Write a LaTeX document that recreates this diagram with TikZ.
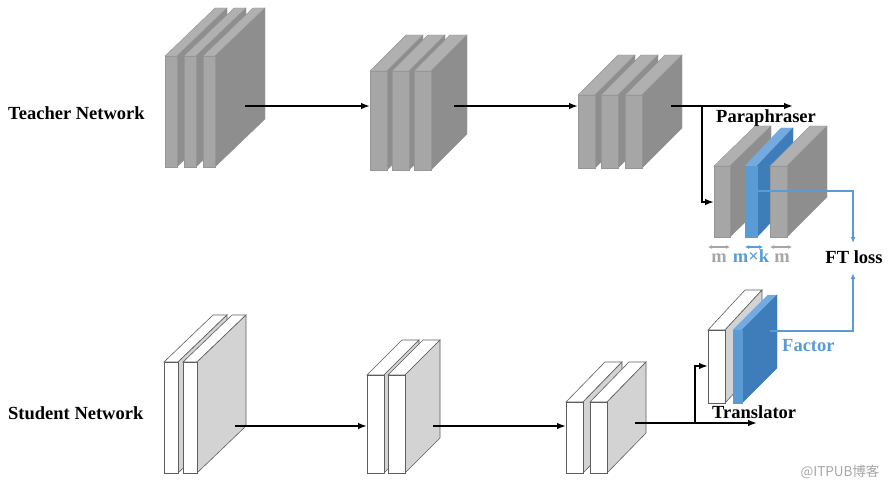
\documentclass[tikz,border=0pt]{standalone}
\usepackage{fontspec}
\setmainfont{Liberation Serif}
\newfontfamily\cjk{Noto Sans CJK SC}
\usetikzlibrary{arrows.meta}

\definecolor{tfrontc}{HTML}{A6A6A6}
\definecolor{ttopc}{HTML}{B0B0B0}
\definecolor{tsidec}{HTML}{8E8E8E}
\definecolor{tedgec}{HTML}{969696}
\definecolor{ssidec}{HTML}{D3D3D3}
\definecolor{sedgec}{HTML}{5E5E5E}
\definecolor{bfrontc}{HTML}{5B9BD5}
\definecolor{btopc}{HTML}{73ABE0}
\definecolor{bsidec}{HTML}{3F7DBA}
\definecolor{bluec}{HTML}{5B9BD5}
\definecolor{dimc}{HTML}{A6A6A6}

\tikzset{
  tfront/.style={fill=tfrontc, draw=tedgec, line width=0.4pt},
  ttop/.style={fill=ttopc, draw=tedgec, line width=0.4pt},
  tside/.style={fill=tsidec, draw=tedgec, line width=0.4pt},
  sfront/.style={fill=white, draw=sedgec, line width=0.6pt},
  stop/.style={fill=white, draw=sedgec, line width=0.6pt},
  sside/.style={fill=ssidec, draw=sedgec, line width=0.6pt},
  bfront/.style={fill=bfrontc, draw=bfrontc, line width=0.4pt},
  btop/.style={fill=btopc, draw=btopc, line width=0.4pt},
  bside/.style={fill=bsidec, draw=bsidec, line width=0.4pt},
  lbl/.style={font=\bfseries\fontsize{18.5}{20}\selectfont, inner sep=0pt},
  flow/.style={draw, line width=1.5pt, -{Latex[length=9pt,width=6.5pt]}},
  blueflow/.style={draw=bluec, line width=1.5pt, -{Latex[length=6pt,width=5pt]}},
  dim/.style={line width=1.2pt, {Latex[length=4pt,width=4pt]}-{Latex[length=4pt,width=4pt]}}
}

% slab: x, y, front width, height, dx, dy, face style prefix
\newcommand{\slab}[7]{%
  \filldraw[#7top] (#1,#2) -- ++(#5,-#6) -- ++(#3,0) -- ++(-#5,#6) -- cycle;
  \filldraw[#7side] (#1+#3,#2) -- ++(#5,-#6) -- ++(0,#4) -- ++(-#5,#6) -- cycle;
  \filldraw[#7front] (#1,#2) rectangle ++(#3,#4);
}

\begin{document}
\begin{tikzpicture}[x=1pt, y=-1pt]
\useasboundingbox (0,0) rectangle (890,486);

% teacher
\foreach \x in {165,184,203} \slab{\x}{56}{12}{111}{50}{48}{t};
\foreach \x in {370,392,414} \slab{\x}{71}{17}{99}{36}{36}{t};
\foreach \x in {578,601,625} \slab{\x}{95}{17}{73}{40}{40}{t};
% paraphraser
\slab{714}{166}{16}{71}{41}{40}{t};
\slab{745}{166}{12}{71}{36}{38}{b};
\slab{770}{166}{17}{71}{40}{40}{t};

% student
\foreach \x in {164,183} \slab{\x}{362}{14}{111}{49}{47}{s};
\foreach \x in {367,388} \slab{\x}{375}{17}{98}{35}{35}{s};
\foreach \x in {566,590} \slab{\x}{402}{17}{71}{39}{40}{s};
% translator
\slab{708}{330}{17}{73}{37}{40}{s};
\slab{733}{330}{9}{73}{35}{35}{b};

\coordinate (t1out) at (245,106);
\coordinate (t2in) at (370,106);
\coordinate (t2out) at (454,106);
\coordinate (t3in) at (578,106);
\coordinate (t3out) at (671,106);
\coordinate (tend) at (793,106);
\coordinate (tbranch) at (702,106);
\coordinate (pin) at (714,202);
\coordinate (pout) at (757,191);
\coordinate (lossin) at (853,243);
\coordinate (s1out) at (235,426);
\coordinate (s2in) at (367,426);
\coordinate (s2out) at (433,426);
\coordinate (s3in) at (566,426);
\coordinate (s3out) at (635,423);
\coordinate (send) at (757,423);
\coordinate (sbranch) at (695,423);
\coordinate (trin) at (708,366);
\coordinate (trout) at (770,331);
\coordinate (lossup) at (853,273);

\path[flow] (t1out) -- (t2in);
\path[flow] (t2out) -- (t3in);
\path[flow] (t3out) -- (tend);
\path[flow] (tbranch) |- (pin);
\path[flow] (s1out) -- (s2in);
\path[flow] (s2out) -- (s3in);
\path[flow] (s3out) -- (send);
\path[flow] (sbranch) |- (trin);
\path[blueflow] (pout) -| (lossin);
\path[blueflow] (trout) -| (lossup);

% widths
\coordinate (m1a) at (708,247);
\coordinate (m1b) at (730,247);
\coordinate (m2a) at (745,247);
\coordinate (m2b) at (763,247);
\coordinate (m3a) at (770,247);
\coordinate (m3b) at (792,247);
\draw[dim, dimc] (m1a) -- (m1b);
\draw[dim, bluec] (m2a) -- (m2b);
\draw[dim, dimc] (m3a) -- (m3b);

\node[lbl, anchor=base west] (teacher) at (8,119.5) {Teacher Network};
\node[lbl, anchor=base west] (student) at (8,419) {Student Network};
\node[lbl, anchor=base west] (para) at (716,123) {Paraphraser};
\node[lbl, anchor=base west] (trans) at (712,418) {Translator};
\node[lbl, anchor=base] (ftloss) at (854,263) {FT loss};
\node[lbl, anchor=base west, text=bluec] (factor) at (782,351) {Factor};
\node[lbl, anchor=base, text=dimc] (mleft) at (719,262) {m};
\node[lbl, anchor=base, text=bluec] (mk) at (751,262) {m×k};
\node[lbl, anchor=base, text=dimc] (mright) at (782,262) {m};
\node[font=\cjk\fontsize{13.5}{15}\selectfont, text=black!35, inner sep=0pt] (mark) at (840,472) {@ITPUB博客};
\end{tikzpicture}
\end{document}
